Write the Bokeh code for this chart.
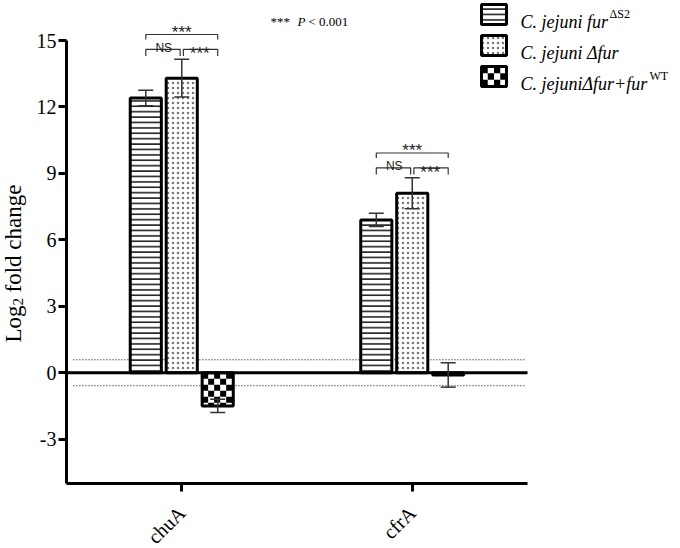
from math import pi
from bokeh.plotting import figure
from bokeh.models import (ColumnDataSource, FixedTicker, Whisker, TeeHead, Label,
                          BoxAnnotation)
from bokeh.core.properties import value
from bokeh.embed import file_html
from bokeh.resources import INLINE

# ---------------- data ----------------
genes = ["chuA", "cfrA"]
gene_x = [1, 2]
strain_names = ["C. jejuni fur", "C. jejuni \u0394fur", "C. jejuni\u0394fur+fur"]
strain_sups = ["\u0394S2", "", "WT"]
fur_s2 = [12.4, 6.9]
fur_s2_err = [0.35, 0.3]
delta_fur = [13.3, 8.1]
delta_fur_err = [0.85, 0.7]
complemented = [-1.5, -0.1]
complemented_err = [0.3, 0.55]
y_ticks = [-3, 0, 3, 6, 9, 12, 15]
y_axis_min, y_axis_max = -5, 15
x_axis_min, x_axis_max = 0.5, 2.5
threshold = 0.585
pair_labels = ["NS", "***"]
overall_label = "***"
note_parts = ["***", "P", "< 0.001"]
y_label_parts = ["Log", "2", "fold change"]

# ---------------- layout ----------------
W, H = 680, 548
AX_L, AX_R, AX_T, AX_B = 66, 527, 40, 483   # pixel positions of the axes box
xpp = (x_axis_max - x_axis_min) / (AX_R - AX_L)
ypp = (y_axis_max - y_axis_min) / (AX_B - AX_T)


def sx(px):
    return px


def sy(py):
    return H - py


SERIF = "Liberation Serif"
SANS = "Liberation Sans"

p = figure(width=W, height=H, output_backend="svg", toolbar_location=None,
           x_range=(x_axis_min - AX_L * xpp, x_axis_max + (W - AX_R) * xpp),
           y_range=(y_axis_min - (H - AX_B) * ypp, y_axis_max + AX_T * ypp),
           min_border_left=0, min_border_right=0, min_border_top=0, min_border_bottom=0)
p.outline_line_color = None
p.grid.visible = False
p.background_fill_color = "white"

# axes (drawn inside the frame at fixed locations)
p.xaxis.ticker = FixedTicker(ticks=gene_x)
p.xaxis.major_label_overrides = {g: n for g, n in zip(gene_x, genes)}
p.xaxis.bounds = (x_axis_min, x_axis_max)
p.xaxis.fixed_location = y_axis_min
p.xaxis.major_label_orientation = pi / 4
p.xaxis.major_label_standoff = 18
p.yaxis.ticker = FixedTicker(ticks=y_ticks)
p.yaxis.major_label_overrides = {t: str(t) for t in y_ticks}
p.yaxis.bounds = (y_axis_min, y_axis_max)
p.yaxis.fixed_location = x_axis_min
p.yaxis.major_label_standoff = 2
for ax in (p.xaxis, p.yaxis):
    ax.axis_line_width = 3
    ax.axis_line_color = "black"
    ax.major_tick_line_width = 3
    ax.major_tick_out = 8
    ax.major_tick_in = 0
    ax.minor_tick_line_color = None
    ax.major_label_text_font = SERIF
    ax.major_label_text_font_size = "20px"
    ax.major_label_text_color = "black"

# threshold dotted lines
for t in (threshold, -threshold):
    p.line(x=[x_axis_min + 0.03, x_axis_max - 0.01], y=[t, t], line_color="black",
           line_width=1, line_dash="1 2")

off = 0.156
bw = 0.135
stripe_style = dict(hatch_pattern="horizontal_line", hatch_scale=5.4, hatch_weight=1.6, hatch_color="#222")
dot_style = dict(hatch_pattern="dot", hatch_scale=5, hatch_weight=0.3, hatch_color="#777")

series = [(fur_s2, fur_s2_err, -off, stripe_style),
          (delta_fur, delta_fur_err, 0.0, dot_style),
          (complemented, complemented_err, off, None)]
for vals, errs, o, hatch in series:
    xs = [g + o for g in gene_x]
    src = ColumnDataSource(dict(x=xs, top=vals,
                                upper=[v + e for v, e in zip(vals, errs)],
                                lower=[v - e for v, e in zip(vals, errs)]))
    if hatch is not None:
        hs = {k: (value(v) if k == "hatch_pattern" else v) for k, v in hatch.items()}
        p.vbar(x="x", top="top", bottom=0, width=bw, source=src, fill_color="white",
               line_color="black", line_width=3, **hs)
    else:
        # checkerboard fill derived from the bar extents
        p.vbar(x="x", top="top", bottom=0, width=bw, source=src, fill_color="white", line_color=None)
        cell_x = 6 * xpp
        cell_y = 6 * ypp
        L, R, T, B = [], [], [], []
        for xc, v in zip(xs, vals):
            left = xc - bw / 2
            lo, hi = min(0, v), max(0, v)
            j = 0
            ytop = hi
            while ytop > lo + 1e-9:
                ybot = max(lo, ytop - cell_y)
                i = 0
                xl = left
                while xl < left + bw - 1e-9:
                    xr = min(left + bw, xl + cell_x)
                    if (i + j) % 2 == 0:
                        L.append(xl); R.append(xr); T.append(ytop); B.append(ybot)
                    xl = xr
                    i += 1
                ytop = ybot
                j += 1
        p.quad(left=L, right=R, top=T, bottom=B, fill_color="black", line_color=None)
        p.vbar(x="x", top="top", bottom=0, width=bw, source=src, fill_color=None,
               line_color="black", line_width=3)
    p.add_layout(Whisker(source=src, base="x", upper="upper", lower="lower",
                         line_color="#333", line_width=1.5, level="annotation",
                         upper_head=TeeHead(size=15, line_color="#333", line_width=1.5),
                         lower_head=TeeHead(size=15, line_color="#333", line_width=1.5)))

# zero line
p.line(x=[x_axis_min, x_axis_max], y=[0, 0], line_color="black", line_width=3)

# significance brackets
bxs, bys = [], []
ns_x, ns_y, st_x, st_y = [], [], [], []
for i, g in enumerate(gene_x):
    x1, x2, x3 = g - off, g, g + off
    top_err = max(fur_s2[i] + fur_s2_err[i], delta_fur[i] + delta_fur_err[i])
    y_low = top_err + 0.45
    y_high = y_low + 0.67
    leg1, leg2, gap = 0.3, 0.22, 0.007
    bxs += [[x1, x1, x2 - gap, x2 - gap], [x2 + gap, x2 + gap, x3, x3], [x1, x1, x3, x3]]
    bys += [[y_low - leg1, y_low, y_low, y_low - leg1]] * 2 + [[y_high - leg2, y_high, y_high, y_high - leg2]]
    ns_x.append((x1 + x2) / 2)
    ns_y.append(y_low + 0.08)
    st_x += [(x2 + x3) / 2, (x1 + x3) / 2]
    st_y += [y_low - 0.2, y_high + 0.1]
p.multi_line(xs=bxs, ys=bys, line_color="#333", line_width=1.2)
p.text(x=ns_x, y=ns_y, text=[pair_labels[0]] * len(ns_x), text_font=value(SANS),
       text_font_size="12px", text_align="center", text_baseline="alphabetic", text_color="#222")
p.text(x=st_x, y=st_y, text=[pair_labels[1], overall_label] * len(gene_x), text_font=value(SANS),
       text_font_size="17px", text_align="center", text_baseline="alphabetic", text_color="#222")

# y axis title (with subscript)
yl = [(13, 342, "23px", y_label_parts[0]), (17, 305, "15px", y_label_parts[1]),
      (13, 292, "23px", y_label_parts[2])]
for px, py, fs, txt in yl:
    p.add_layout(Label(x=sx(px), y=sy(py), x_units="screen", y_units="screen", text=txt,
                       angle=pi / 2, text_font=SERIF, text_font_size=fs,
                       text_baseline="alphabetic", text_align="left", text_color="black"))

# note
note_pos = [(270, 21, "normal"), (297, 21, "italic"), (308, 21, "normal")]
for txt, (px, py, style) in zip(note_parts, note_pos):
    p.add_layout(Label(x=sx(px), y=sy(py), x_units="screen", y_units="screen", text=txt,
                       text_font=SERIF, text_font_size="13px", text_font_style=style,
                       text_baseline="alphabetic", text_color="black"))

# legend
legend_base = [21, 52, 83]
box_h = 20
sup_dx = [89, None, 129]
box_l, box_r = 481, 506
text_x = 520
for k, (base, name, sup, sdx) in enumerate(zip(legend_base, strain_names, strain_sups, sup_dx)):
    top, bot = base - 7 - box_h / 2, base - 7 + box_h / 2
    common = dict(left=sx(box_l), right=sx(box_r), top=sy(top), bottom=sy(bot),
                  left_units="screen", right_units="screen", top_units="screen",
                  bottom_units="screen")
    if k == 0:
        p.add_layout(BoxAnnotation(fill_color="white", fill_alpha=1, line_color=None, **common, **stripe_style))
    elif k == 1:
        p.add_layout(BoxAnnotation(fill_color="white", fill_alpha=1, line_color=None, **common, **dot_style))
    else:
        p.add_layout(BoxAnnotation(fill_color="white", fill_alpha=1, line_color=None, **common))
        ncol, nrow = 4, 3
        cw = (box_r - box_l) / ncol
        ch = (bot - top) / nrow
        for r in range(nrow):
            for c in range(ncol):
                if (r + c) % 2 == 0:
                    p.add_layout(BoxAnnotation(left=sx(box_l + c * cw), right=sx(box_l + (c + 1) * cw),
                                               top=sy(top + r * ch), bottom=sy(top + (r + 1) * ch),
                                               left_units="screen", right_units="screen",
                                               top_units="screen", bottom_units="screen",
                                               fill_color="black", fill_alpha=1, line_color=None))
    p.add_layout(BoxAnnotation(fill_color=None, line_color="black", line_width=3, line_alpha=1, **common))
    p.add_layout(Label(x=sx(text_x), y=sy(base), x_units="screen", y_units="screen", text=name,
                       text_font=SERIF, text_font_size="18px", text_font_style="italic",
                       text_baseline="alphabetic", text_color="black"))
    if sup:
        p.add_layout(Label(x=sx(text_x + sdx), y=sy(base - 8), x_units="screen", y_units="screen", text=sup,
                           text_font=SERIF, text_font_size="12px",
                           text_baseline="alphabetic", text_color="black"))

open("out.html", "w").write(file_html(p, INLINE))
